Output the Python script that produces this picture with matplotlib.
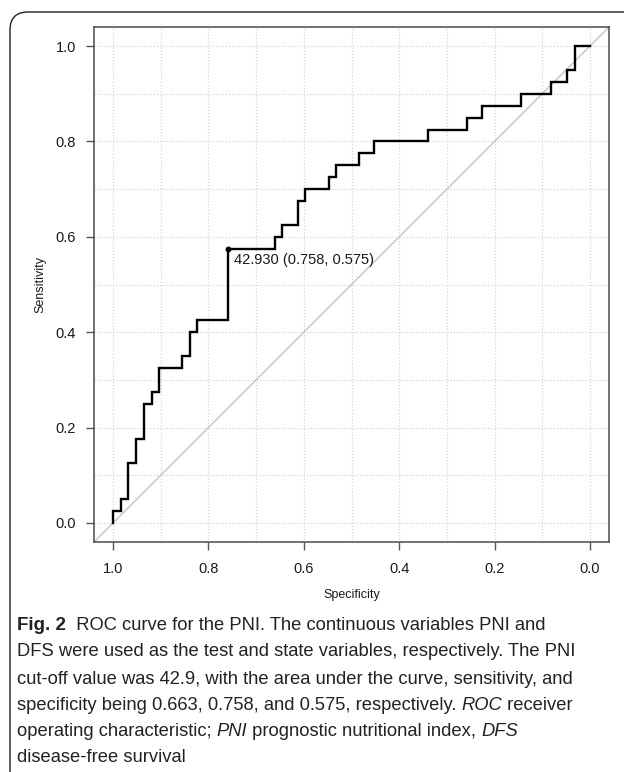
import matplotlib
matplotlib.use("Agg")
import matplotlib.pyplot as plt
from matplotlib.path import Path
import matplotlib.patches as mpatches

# ---------------- data ----------------
specificity = [1.0, 0.984, 0.968, 0.952, 0.935, 0.919, 0.903, 0.855, 0.839, 0.823,
               0.758, 0.661, 0.645, 0.613, 0.597, 0.548, 0.532, 0.484, 0.452, 0.339,
               0.258, 0.226, 0.145, 0.081, 0.048, 0.032, 0.0]
sensitivity = [0.0, 0.025, 0.05, 0.125, 0.175, 0.25, 0.275, 0.325, 0.35, 0.4,
               0.425, 0.575, 0.6, 0.625, 0.675, 0.7, 0.725, 0.75, 0.775, 0.8,
               0.825, 0.85, 0.875, 0.9, 0.925, 0.95, 1.0]
thr_spec = 0.758
thr_sens = 0.575
thr_label = "42.930 (0.758, 0.575)"
tick_values = [0.0, 0.2, 0.4, 0.6, 0.8, 1.0]
tick_labels = ["0.0", "0.2", "0.4", "0.6", "0.8", "1.0"]
x_label = "Specificity"
y_label = "Sensitivity"
caption_lines = [
    [("Fig. 2", "bold"), ("  ROC curve for the PNI. The continuous variables PNI and", "normal")],
    [("DFS were used as the test and state variables, respectively. The PNI", "normal")],
    [("cut-off value was 42.9, with the area under the curve, sensitivity, and", "normal")],
    [("specificity being 0.663, 0.758, and 0.575, respectively. ", "normal"), ("ROC", "italic"), (" receiver", "normal")],
    [("operating characteristic; ", "normal"), ("PNI", "italic"), (" prognostic nutritional index, ", "normal"), ("DFS", "italic")],
    [("disease-free survival", "normal")],
]

W, H = 627, 772
DPI = 100
plt.rcParams['font.family'] = ['Liberation Sans', 'DejaVu Sans']

fig = plt.figure(figsize=(W / DPI, H / DPI), dpi=DPI)
fig.patch.set_facecolor("white")

# axes box in pixels: left 94, right 609, top 27, bottom 542
L, R, T, B = 94, 609, 27, 542
ax = fig.add_axes([L / W, 1 - B / H, (R - L) / W, (B - T) / H])

# build step path
xs, ys = [specificity[0]], [sensitivity[0]]
for i in range(len(specificity) - 1):
    xs.append(specificity[i]); ys.append(sensitivity[i + 1])
    xs.append(specificity[i + 1]); ys.append(sensitivity[i + 1])

lo, hi = -0.04, 1.04
ax.set_xlim(hi, lo)
ax.set_ylim(lo, hi)

# grid every 0.1, dotted
for v in [i / 10 for i in range(11)]:
    ax.axvline(v, color="#d6d6d6", lw=0.9, ls=(0, (1, 1.5)), zorder=0)
    ax.axhline(v, color="#d6d6d6", lw=0.9, ls=(0, (1, 1.5)), zorder=0)

# diagonal
ax.plot([hi, lo], [1 - hi, 1 - lo], color="#bdbdbd", lw=0.9, zorder=1)

# ROC curve
ax.plot(xs, ys, color="black", lw=1.7, solid_joinstyle="miter", zorder=3)

# threshold
ax.plot([thr_spec], [thr_sens], "o", color="black", ms=3.2, zorder=4)
ax.annotate(thr_label, (thr_spec, thr_sens), xytext=(4, -3), textcoords="offset points",
            ha="left", va="top", fontsize=10.5, color="#1a1a1a")

ax.set_xticks(tick_values)
ax.set_xticklabels(tick_labels)
ax.set_yticks(tick_values)
ax.set_yticklabels(tick_labels)
ax.tick_params(axis="both", direction="out", length=6, width=1.0, color="#555555",
               labelsize=10.5, labelcolor="#1a1a1a")
ax.tick_params(axis="x", pad=8.5)
ax.tick_params(axis="y", pad=7)
for s in ax.spines.values():
    s.set_color("#4a4a4a")
    s.set_linewidth(1.1)

ax.set_xlabel(x_label, fontsize=9, color="#1a1a1a")
ax.set_ylabel(y_label, fontsize=9, color="#1a1a1a")
ax.xaxis.set_label_coords(0.5, -(589 - B) / (B - T))
ax.yaxis.set_label_coords(-(94 - 46) / (R - L), 0.5)

# frame (top + left, rounded corner)
fx = lambda px: px / W
fy = lambda py: 1 - py / H
r = 18
verts = [(fx(10), fy(H + 5)), (fx(10), fy(12 + r)),
         (fx(10), fy(12)), (fx(10 + r), fy(12)),
         (fx(624), fy(12))]
codes = [Path.MOVETO, Path.LINETO, Path.CURVE3, Path.CURVE3, Path.LINETO]
fig.patches.append(mpatches.PathPatch(Path(verts, codes), transform=fig.transFigure,
                                      fill=False, edgecolor="#222222", lw=1.0))

cap_family = "Liberation Sans"
cap_size = 13.2

renderer = fig.canvas.get_renderer()
x0 = 17
line_y = [625, 652, 679, 705, 732, 758]
for yy, segs in zip(line_y, caption_lines):
    xcur = x0
    for txt, style in segs:
        kw = dict(family=[cap_family, "DejaVu Sans"], fontsize=cap_size, color="#222222")
        if style == "bold":
            kw["fontweight"] = "bold"
            kw["fontsize"] = cap_size + 0.3
        if style == "italic":
            kw["fontstyle"] = "italic"
        t = fig.text(xcur / W, fy(yy), txt, ha="left", va="center", **kw)
        bb = t.get_window_extent(renderer=renderer)
        xcur += bb.width

fig.savefig("out.png", dpi=DPI, facecolor="white")
